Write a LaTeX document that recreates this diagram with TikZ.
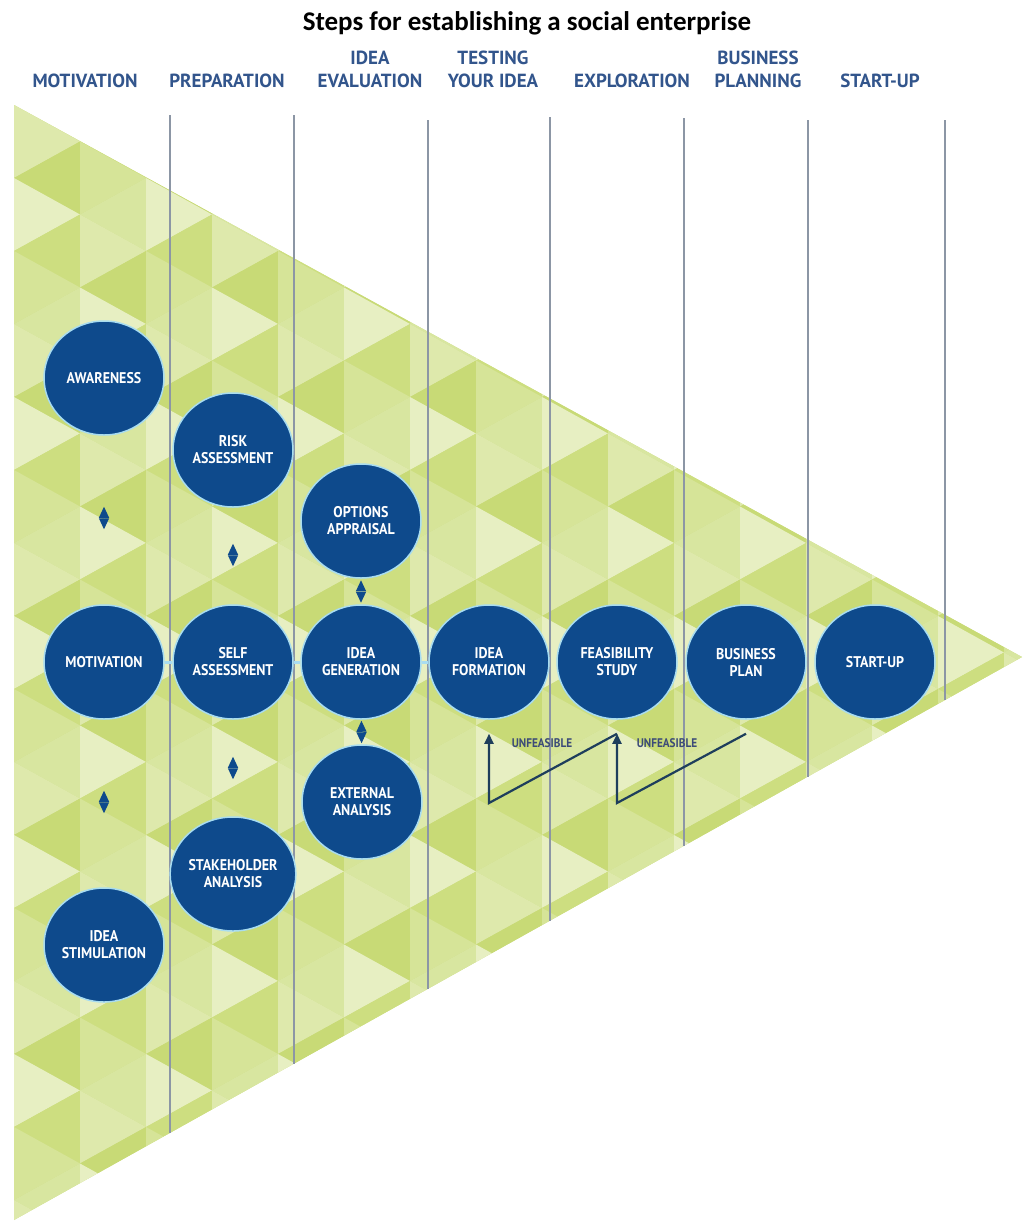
\documentclass[tikz,border=0pt]{standalone}
\usepackage{fontspec}
\usetikzlibrary{shapes.geometric,arrows.meta}

\newfontfamily\titlefont{Carlito}
\newfontfamily\headfont{PT Sans}
\newfontfamily\circfont[FakeStretch=0.9]{PT Sans}

\definecolor{stepblue}{RGB}{14,74,140}
\definecolor{ringcyan}{RGB}{168,220,240}
\definecolor{headblue}{RGB}{50,85,140}
\definecolor{divgray}{RGB}{140,150,165}
\definecolor{loopcol}{RGB}{30,62,92}
\definecolor{flagcol}{RGB}{60,75,120}
% tiling shades: r* for right-pointing, l* for left-pointing
\definecolor{r0}{RGB}{231,239,194}
\definecolor{r1}{RGB}{222,233,172}
\definecolor{r2}{RGB}{214,228,152}
\definecolor{l0}{RGB}{205,222,128}
\definecolor{l1}{RGB}{216,230,160}
\definecolor{l2}{RGB}{200,218,118}

\tikzset{
  stage/.style={ellipse, draw=ringcyan, line width=1.5pt, fill=stepblue,
    minimum width=120pt, minimum height=114pt, inner sep=0pt, text=white,
    align=center, font=\circfont\bfseries\fontsize{15.5}{17}\selectfont},
  phase/.style={anchor=south, inner sep=0pt, text=headblue, align=center,
    font=\headfont\bfseries\fontsize{19}{23}\selectfont},
  flag/.style={inner sep=0pt, text=flagcol,
    font=\circfont\bfseries\fontsize{12.5}{13}\selectfont},
  divider/.style={draw=divgray, line width=1.6pt},
  twoway/.style 2 args={draw=ringcyan, line width=1pt,
    {Triangle[length=11pt,width=10pt,color=stepblue]}-{Triangle[length=11pt,width=10pt,color=stepblue]},
    shorten <=#1, shorten >=#2},
  rowlink/.style={draw=ringcyan, line width=3pt},
  loopback/.style={draw=loopcol, line width=2.2pt, shorten >=14pt,
    -{Triangle[length=10pt,width=9pt]}}
}

\begin{document}
\begin{tikzpicture}[x=1pt,y=-1pt]
\useasboundingbox (0,0) rectangle (1025,1221);

% green triangle with its tiling
\begin{scope}
  \clip (14,105) -- (1022,657) -- (14,1220) -- cycle;
  \fill[l0] (0,100) rectangle (1025,1221);
  \foreach \k in {0,...,15}{
    \foreach \j in {-1,...,15}{
      \pgfmathsetmacro\xa{14+66*\k}
      \pgfmathsetmacro\xb{\xa+66}
      \pgfmathsetmacro\ya{105+73*(\j+0.5*\k)}
      \pgfmathtruncatemacro\ta{mod(\k+2*\j+40,3)}
      \pgfmathtruncatemacro\tb{mod(2*\k+\j+41,3)}
      \fill[fill=r\ta] (\xa,\ya) -- (\xa,\ya+73) -- (\xb,\ya+36.5) -- cycle;
      \fill[fill=l\tb] (\xa,\ya+73) -- (\xb,\ya+36.5) -- (\xb,\ya+109.5) -- cycle;
    }
  }
\end{scope}

% column dividers
\foreach \x/\t in {170/115,294/115,428/120,550/117,684/118,808/120,945/120}{
  \pgfmathsetmacro\e{1220-0.5585*(\x-14)}
  \draw[divider] (\x,\t) -- (\x,\e);
}

% title and phase headers
\node[anchor=base, inner sep=0pt, font=\titlefont\bfseries\fontsize{27}{30}\selectfont]
  (title) at (527,30) {Steps for establishing a social enterprise};
\node[phase] (hmot) at (85,88) {MOTIVATION};
\node[phase] (hprep) at (227,88) {PREPARATION};
\node[phase] (heval) at (370,88) {IDEA\\EVALUATION};
\node[phase] (htest) at (493,88) {TESTING\\YOUR IDEA};
\node[phase] (hexpl) at (632,88) {EXPLORATION};
\node[phase] (hplan) at (758,88) {BUSINESS\\PLANNING};
\node[phase] (hstart) at (880,88) {START-UP};

% stages
\node[stage] (aw) at (104,378) {AWARENESS};
\node[stage] (risk) at (233,450) {RISK\\ASSESSMENT};
\node[stage] (opt) at (361,521) {OPTIONS\\APPRAISAL};
\node[stage] (mot) at (104,662) {MOTIVATION};
\node[stage] (self) at (233,662) {SELF\\ASSESSMENT};
\node[stage] (gen) at (361,662) {IDEA\\GENERATION};
\node[stage] (form) at (489,662) {IDEA\\FORMATION};
\node[stage] (fs) at (617,662) {FEASIBILITY\\STUDY};
\node[stage] (bp) at (746,662) {BUSINESS\\PLAN};
\node[stage] (su) at (875,662) {START-UP};
\node[stage] (ext) at (362,802) {EXTERNAL\\ANALYSIS};
\node[stage] (stake) at (233,874) {STAKEHOLDER\\ANALYSIS};
\node[stage] (stim) at (104,945) {IDEA\\STIMULATION};

% two-way links
\draw[twoway={71pt}{75pt}] (aw) -- (mot);
\draw[twoway={71pt}{74pt}] (mot) -- (stim);
\draw[twoway={36pt}{38pt}] (risk) -- (self);
\draw[twoway={37pt}{37pt}] (self) -- (stake);
\draw[twoway={1.5pt}{1.5pt}] (opt) -- (gen);
\draw[twoway={1pt}{1pt}] (gen) -- (ext);

\draw[rowlink] (mot) -- (self);
\draw[rowlink] (self) -- (gen);
\draw[rowlink] (gen) -- (form);

% unfeasible loops
\coordinate (k1) at (489,803);
\coordinate (k2) at (617,803);
\draw[loopback] ([yshift=-14pt]bp.south) -- (k2) -- (fs.south);
\draw[loopback] ([yshift=-14pt]fs.south) -- (k1) -- (form.south);
\node[flag] (uf1) at (542,743) {UNFEASIBLE};
\node[flag] (uf2) at (667,743) {UNFEASIBLE};
\end{tikzpicture}
\end{document}
